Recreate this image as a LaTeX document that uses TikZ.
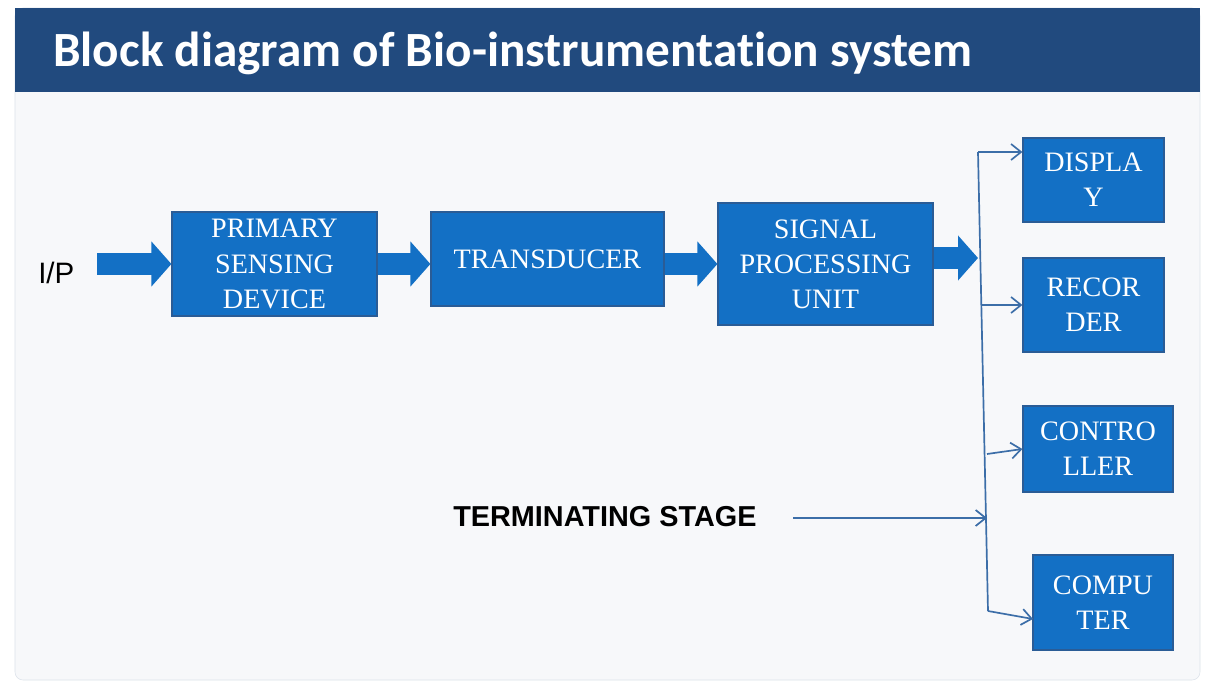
\documentclass[tikz,border=0pt]{standalone}
\usepackage{fontspec}
\setmainfont{Liberation Serif}
\setsansfont{Liberation Sans}
\newfontfamily\titlefont[Ligatures=NoCommon]{Carlito}
\usetikzlibrary{arrows.meta}

\definecolor{barblue}{HTML}{214A7E}
\definecolor{boxblue}{HTML}{1370C5}
\definecolor{boxedge}{HTML}{2A5C96}
\definecolor{wireblue}{HTML}{3C6EA8}
\definecolor{slidebg}{HTML}{F7F8FA}
\definecolor{slideedge}{HTML}{DCE2EA}

\tikzset{
    block/.style={draw=boxedge, line width=0.8pt, fill=boxblue, text=white,
        align=center, inner sep=0pt, font=\fontsize{20}{25}\selectfont},
    fatarrow/.style={draw=boxblue, line width=0.55cm,
        -{Triangle[length=0.5cm,width=1.1cm]}},
    wire/.style={draw=wireblue, line width=1.2pt},
    wirearrow/.style={wire, -{Straight Barb[length=0.25cm,width=0.4cm]}},
    label/.style={inner sep=0pt, anchor=base west, font=\sffamily}
}

\begin{document}
\begin{tikzpicture}[x=0.025cm, y=-0.025cm]
    \useasboundingbox (0,0) rectangle (1206,684);
    \fill [white] (0,0) rectangle (1206,684);
    \draw [slideedge, fill=slidebg, rounded corners=0.2cm] (15,8) rectangle (1200,680);
    \fill [barblue] (15,8) rectangle (1200,92);
    \node (title) [inner sep=0pt, anchor=base west, text=white,
        font=\titlefont\bfseries\fontsize{35}{40}\selectfont] at (53,66)
        {Block diagram of Bio-instrumentation system};

    \node (psd) [block, minimum width=5.125cm, minimum height=2.6cm] at (274.5,264) {PRIMARY\\SENSING\\DEVICE};
    \node (trans) [block, minimum width=5.825cm, minimum height=2.35cm] at (547.5,259) {TRANSDUCER};
    \node (spu) [block, minimum width=5.375cm, minimum height=3.05cm] at (825.5,264) {SIGNAL\\PROCESSING\\UNIT};
    \node (disp) [block, minimum width=3.525cm, minimum height=2.1cm] at (1093.5,180) {DISPLA\\Y};
    \node (rec) [block, minimum width=3.525cm, minimum height=2.35cm] at (1093.5,305) {RECOR\\DER};
    \node (ctrl) [block, minimum width=3.75cm, minimum height=2.15cm] at (1098,449) {CONTRO\\LLER};
    \node (comp) [block, minimum width=3.5cm, minimum height=2.375cm] at (1103,602.5) {COMPU\\TER};

    \node (ip) [label, font=\sffamily\fontsize{21}{25}\selectfont] at (38,283) {I/P};
    \node (term) [label, font=\sffamily\bfseries\fontsize{20.5}{25}\selectfont] at (453,526) {TERMINATING STAGE};

    \coordinate (ipin) at (97,264);
    \coordinate (bustop) at (978,152);
    \coordinate (busrec) at (981,305);
    \coordinate (busctrl) at (987,454);
    \coordinate (busterm) at (987,518);
    \coordinate (busbot) at (988,611);
    \coordinate (termstart) at (793,518);
    \coordinate (comptip) at (1033,619);

    \draw [fatarrow] (ipin) -- (psd.west);
    \draw [fatarrow] (psd.east) -- (psd.east -| trans.west);
    \draw [fatarrow] (spu.west -| trans.east) -- (spu.west);
    \draw [fatarrow] ([yshift=0.15cm]spu.east) -- ([yshift=0.15cm]spu.east -| bustop);

    \draw [wire] (bustop) -- (busbot);
    \draw [wirearrow] (bustop) -- (bustop -| disp.west);
    \draw [wirearrow] (busrec) -- (rec.west);
    \draw [wirearrow] (busctrl) -- (ctrl.west);
    \draw [wirearrow] (termstart) -- (busterm);
    \draw [wirearrow] (busbot) -- (comptip);
\end{tikzpicture}
\end{document}
